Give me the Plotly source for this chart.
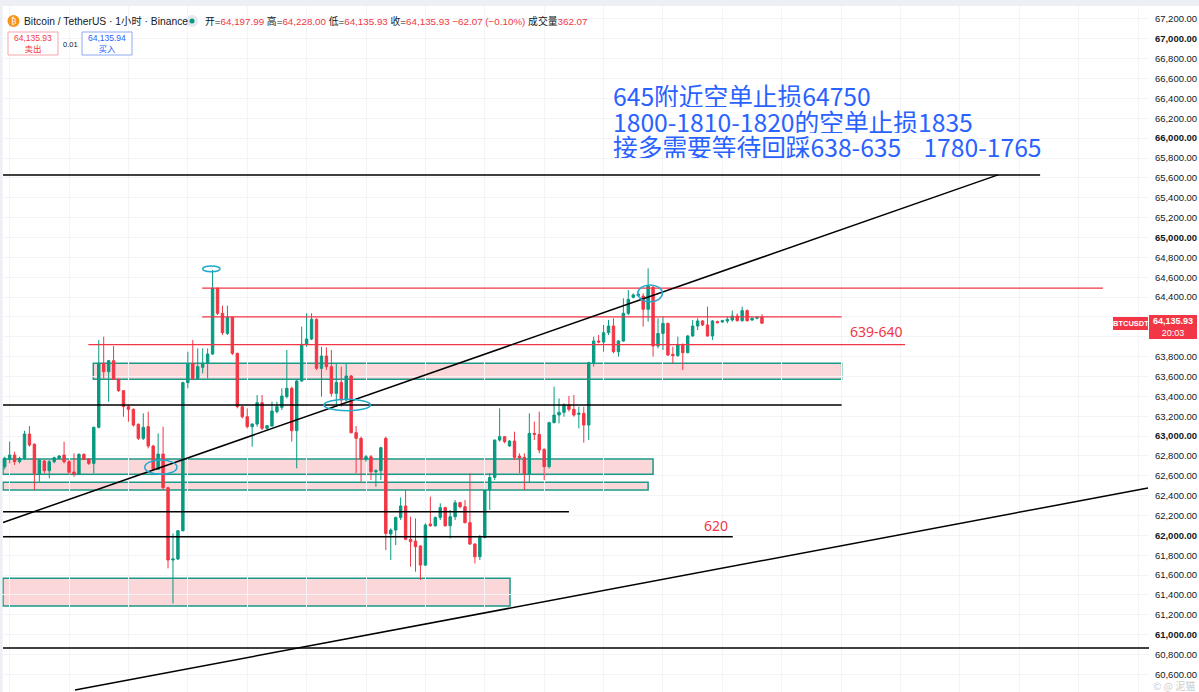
import plotly.graph_objects as go

# ---------------- data (BTCUSDT 1h candles) ----------------
opens = [62692,62766,62809,62742,62776,63021,62917,62618,62749,62651,62742,62776,62809,62742,62638,62618,62816,62769,62725,63088,
         63732,63648,63759,63571,63457,63296,63269,63118,62977,63095,62900,62665,62819,62480,61752,61762,62047,63538,63732,63581,
         63692,63732,63826,64488,64236,64034,64196,63833,63296,63195,63095,63121,63336,63078,63101,63246,63289,63397,63481,63054,
         63554,63924,63977,64175,63682,63806,63699,63430,63541,63363,63605,63034,62977,62766,62792,62641,62651,62977,62014,62054,
         62181,62296,61960,61943,61893,61701,62114,62097,62181,62279,62097,62188,62329,62289,62128,61913,61785,61980,62457,62584,
         62960,62994,62900,62950,62799,62786,62618,63027,63017,62866,62692,63135,63212,63239,63313,63269,63219,63229,63111,63739,
         63957,63947,64041,64108,63850,63957,64236,64397,64414,64410,64276,64498,63907,64034,64135,63823,63810,63917,63840,64008,
         64108,64159,64119,64008,64152,64149,64159,64169,64209,64162,64263,64169,64186,64197.99]
highs = [62792,62944,62843,62792,63054,63101,62927,62769,62759,62759,62792,62809,62944,62759,62826,62826,62826,62776,63095,63967,
         64001,63766,63907,63581,63464,63313,63279,63128,63229,63246,62910,63027,63095,62490,62020,62054,63548,63850,63967,63883,
         63883,63883,64672,64498,64313,64313,64202,63840,63303,63279,63128,63413,63413,63111,63346,63346,63481,63867,63497,63565,
         64102,64236,64236,64186,63900,63894,63867,63732,63699,63732,63615,63101,62994,62809,62809,62665,62893,62994,62071,62188,
         62383,62457,62188,62171,61903,62121,62390,62188,62323,62289,62256,62356,62339,62356,62625,61920,62004,62463,62625,62965,
         63279,63001,62960,63044,62826,62826,63229,63145,63246,62876,63145,63497,63380,63330,63403,63413,63296,63296,63749,64001,
         64018,64119,64169,64186,63967,64387,64471,64437,64437,64437,64689,64511,64186,64202,64142,63900,64001,63934,64018,64169,
         64186,64169,64303,64169,64162,64169,64202,64263,64236,64303,64276,64196,64209,64228.00]
lows = [62665,62725,62709,62725,62759,62893,62457,62541,62625,62574,62725,62766,62725,62608,62591,62608,62759,62709,62625,63078,
        63581,63346,63565,63447,63195,63145,63095,62960,62960,62876,62658,62658,62457,61668,61315,61752,62040,63481,63565,63565,
        63632,63581,63816,64219,64018,64018,63816,63279,63178,63078,62893,63095,63061,63061,63095,63229,63262,63380,62944,62675,
        63548,63900,63967,63665,63397,63665,63397,63296,63296,63346,63027,62625,62541,62742,62557,62490,62557,61852,61752,61903,
        62155,61953,61685,61634,61551,61691,62087,62087,62155,62087,61970,62155,62272,62121,61903,61718,61752,61970,62256,62557,
        62944,62927,62893,62759,62625,62457,62531,62960,62826,62557,62675,63128,63128,63195,63246,63195,63078,62933,62960,63699,
        63934,63850,64018,63833,63800,63951,64219,64387,64404,64102,64152,63800,63883,63867,63806,63732,63800,63665,63833,64001,
        64068,64108,64001,63967,64135,64142,64135,64152,64152,64152,64152,64159,64175,64135.93]
closes = [62776,62809,62742,62776,63021,62910,62625,62759,62651,62742,62782,62799,62742,62635,62618,62816,62766,62725,63088,63732,
          63648,63759,63571,63457,63296,63269,63111,62977,63088,62900,62665,62819,62480,61752,61762,62047,63538,63732,63581,63699,
          63732,63826,64488,64236,64041,64196,63833,63296,63195,63095,63121,63336,63078,63105,63252,63296,63403,63481,63054,63554,
          63924,63977,64175,63682,63806,63699,63430,63541,63363,63605,63034,62977,62766,62792,62641,62651,62883,62020,62054,62181,
          62296,61960,61936,61886,61701,62104,62097,62181,62279,62097,62188,62329,62289,62128,61913,61785,61980,62457,62584,62960,
          62994,62944,62950,62786,62779,62618,63027,63017,62860,62692,63135,63212,63239,63313,63269,63212,63229,63111,63739,63957,
          63947,64041,64108,63850,63957,64236,64377,64421,64431,64276,64511,63907,64034,64135,63816,63810,63917,63840,64008,64108,
          64159,64119,64008,64159,64142,64162,64175,64209,64162,64263,64162,64186,64196,64135.93]
candle_idx = list(range(len(opens)))

# drawn levels (price) and their extents (in candle-index units)
black_levels = [65630, 63313, 62239, 61987, 60866]
black_x0 = [-0.34, -0.34, -0.34, -0.34, -0.34]
black_x1 = [209.2, 169.1, 114.0, 147.1, 231.2]

red_levels = [64490, 64200, 63920]
red_x0 = [39.9, 39.9, 16.9]
red_x1 = [221.9, 169.1, 181.9]

zone_top = [63733, 62769, 62535, 61568]
zone_bot = [63572, 62615, 62457, 61289]
zone_x0 = [17.9, -0.34, -0.34, -0.34]
zone_x1 = [169.1, 131.0, 130.0, 102.1]

trend_x0 = [-0.34, 14.2]
trend_y0 = [62130, 60443]
trend_x1 = [200.7, 231.0]
trend_y1 = [65630, 62477]

ellipse_x0 = [40.0, 28.3, 64.5, 127.9]
ellipse_x1 = [43.5, 34.8, 73.9, 132.9]
ellipse_y0 = [64655, 62615, 63255, 64353]
ellipse_y1 = [64713, 62759, 63370, 64521]

tick_vals = list(range(60400, 67400, 200))
hidden_ticks = [64000, 64200]  # covered by the last-price tag
tick_text = ["" if v in hidden_ticks else (("<b>%s</b>" if v % 1000 == 0 else "%s") % f"{v:,.2f}")
             for v in tick_vals]
grid_x = list(range(1, 240, 12))

notes = ["645附近空单止损64750", "1800-1810-1820的空单止损1835", "接多需要等待回踩638-635    1780-1765"]

GREEN = "#089981"
RED = "#f23645"
BLUE = "#2962ff"
CYAN = "#22aacc"
W, H = 1199, 692
PW = 1149  # plot width in px


def X(px):
    return px / PW


def Y(py):
    return 1 - py / H


fig = go.Figure()
fig.add_trace(go.Candlestick(
    x=candle_idx, open=opens, high=highs, low=lows, close=closes,
    increasing=dict(line=dict(color=GREEN, width=1), fillcolor=GREEN),
    decreasing=dict(line=dict(color=RED, width=1), fillcolor=RED),
    whiskerwidth=0, hoverinfo="skip", showlegend=False,
))

shapes = []
for t, b, x0, x1 in zip(zone_top, zone_bot, zone_x0, zone_x1):
    shapes.append(dict(type="rect", xref="x", yref="y", x0=x0, x1=x1, y0=b, y1=t,
                       fillcolor="rgba(242,54,69,0.2)", line=dict(color="#1a9a88", width=1.5), layer="below"))
for lv, x0, x1 in zip(black_levels, black_x0, black_x1):
    shapes.append(dict(type="line", xref="x", yref="y", x0=x0, x1=x1, y0=lv, y1=lv,
                       line=dict(color="#000000", width=1.5), layer="above"))
for lv, x0, x1 in zip(red_levels, red_x0, red_x1):
    shapes.append(dict(type="line", xref="x", yref="y", x0=x0, x1=x1, y0=lv, y1=lv,
                       line=dict(color=RED, width=1.2), layer="above"))
for a, b, c, d in zip(trend_x0, trend_y0, trend_x1, trend_y1):
    shapes.append(dict(type="line", xref="x", yref="y", x0=a, y0=b, x1=c, y1=d,
                       line=dict(color="#000000", width=1.5), layer="above"))
for a, b, c, d in zip(ellipse_x0, ellipse_x1, ellipse_y0, ellipse_y1):
    shapes.append(dict(type="circle", xref="x", yref="y", x0=a, x1=b, y0=c, y1=d,
                       line=dict(color=CYAN, width=1.5), layer="above"))

# chrome: top toolbar strip, left strip
shapes.append(dict(type="rect", xref="paper", yref="paper", x0=0, x1=W / PW, y0=Y(6), y1=1,
                   fillcolor="#eceff3", line=dict(width=0), layer="above"))
shapes.append(dict(type="rect", xref="paper", yref="paper", x0=0, x1=X(2.5), y0=0, y1=1,
                   fillcolor="#eceff3", line=dict(width=0), layer="above"))
# header icons
shapes.append(dict(type="circle", xref="paper", yref="paper", x0=X(7.5), x1=X(19.5), y0=Y(27), y1=Y(15),
                   fillcolor="#f7931a", line=dict(width=0), layer="above"))
shapes.append(dict(type="circle", xref="paper", yref="paper", x0=X(186), x1=X(198), y0=Y(27), y1=Y(15),
                   fillcolor="#e6e8ee", line=dict(width=0), layer="above"))
shapes.append(dict(type="circle", xref="paper", yref="paper", x0=X(189.5), x1=X(194.5), y0=Y(23.5), y1=Y(18.5),
                   fillcolor=GREEN, line=dict(width=0), layer="above"))
# buy / sell boxes
shapes.append(dict(type="rect", xref="paper", yref="paper", x0=X(8), x1=X(58), y0=Y(55), y1=Y(32),
                   fillcolor="white", line=dict(color="#f7a6ad", width=1), layer="above"))
shapes.append(dict(type="rect", xref="paper", yref="paper", x0=X(82), x1=X(132), y0=Y(55), y1=Y(32),
                   fillcolor="white", line=dict(color="#90a9f5", width=1), layer="above"))
# price tags on the right
shapes.append(dict(type="rect", xref="paper", yref="paper", x0=X(1113), x1=X(1148), y0=Y(330), y1=Y(317),
                   fillcolor=RED, line=dict(width=0), layer="above"))
shapes.append(dict(type="rect", xref="paper", yref="paper", x0=X(1149), x1=X(1197), y0=Y(339), y1=Y(315),
                   fillcolor=RED, line=dict(width=0), layer="above"))

ann = []
for k, line in enumerate(notes):
    ann.append(dict(xref="paper", yref="paper", x=X(612), y=Y(95 + 25.5 * k), text=line, showarrow=False,
                    xanchor="left", yanchor="middle", height=24, borderpad=0,
                    font=dict(family="Noto Sans CJK SC", size=24.7, color=BLUE)))
ann.append(dict(xref="paper", yref="paper", x=X(876), y=Y(332), text="639-640", showarrow=False,
                xanchor="center", yanchor="middle", font=dict(family="Noto Sans", size=14, color=RED)))
ann.append(dict(xref="paper", yref="paper", x=X(716), y=Y(525), text="620", showarrow=False,
                xanchor="center", yanchor="middle", font=dict(family="Noto Sans", size=14, color=RED)))

hdr_font = "Liberation Sans, Noto Sans CJK SC"
ann.append(dict(xref="paper", yref="paper", x=X(13.5), y=Y(21), text="₿", showarrow=False,
                xanchor="center", yanchor="middle", font=dict(family="DejaVu Sans", size=8, color="white")))
ann.append(dict(xref="paper", yref="paper", x=X(22), y=Y(21), text="Bitcoin / TetherUS · 1小时 · Binance",
                showarrow=False, xanchor="left", yanchor="middle",
                font=dict(family=hdr_font, size=10.3, color="#131722")))
r = lambda s: f"<span style='color:{RED}'>{s}</span>"
ohlc = ("开=" + r("64,197.99") + " 高=" + r("64,228.00") + " 低=" + r("64,135.93") + " 收=" +
        r("64,135.93") + " " + r("−62.07 (−0.10%)") + " 成交量" + r("362.07"))
ann.append(dict(xref="paper", yref="paper", x=X(203), y=Y(21), text=ohlc, showarrow=False,
                xanchor="left", yanchor="middle", font=dict(family=hdr_font, size=9.8, color="#131722")))
ann.append(dict(xref="paper", yref="paper", x=X(33), y=Y(43.5), text="64,135.93<br>卖出", showarrow=False,
                xanchor="center", yanchor="middle", font=dict(family=hdr_font, size=8.5, color=RED)))
ann.append(dict(xref="paper", yref="paper", x=X(107), y=Y(43.5), text="64,135.94<br>买入", showarrow=False,
                xanchor="center", yanchor="middle", font=dict(family=hdr_font, size=8.5, color=BLUE)))
ann.append(dict(xref="paper", yref="paper", x=X(70), y=Y(44), text="0.01", showarrow=False,
                xanchor="center", yanchor="middle", font=dict(family=hdr_font, size=7.5, color="#131722")))
ann.append(dict(xref="paper", yref="paper", x=X(1130.5), y=Y(323.5), text="<b>BTCUSDT</b>", showarrow=False,
                xanchor="center", yanchor="middle", font=dict(family="Liberation Sans", size=7.5, color="white")))
ann.append(dict(xref="paper", yref="paper", x=X(1173), y=Y(327), text="<b>64,135.93</b><br>20:03", showarrow=False,
                xanchor="center", yanchor="middle", font=dict(family="Liberation Sans", size=9, color="white")))
ann.append(dict(xref="paper", yref="paper", x=X(1174), y=Y(685), text="© @ 泥猫", showarrow=False,
                xanchor="center", yanchor="middle", font=dict(family="Noto Sans CJK SC", size=10, color="rgba(150,150,150,0.5)")))

fig.update_layout(
    width=W, height=H, margin=dict(l=0, r=W - PW, t=0, b=0),
    paper_bgcolor="white", plot_bgcolor="white",
    shapes=shapes, annotations=ann, showlegend=False,
    xaxis=dict(range=[-0.95, 231.2], rangeslider=dict(visible=False), showticklabels=False,
               tickvals=grid_x, showgrid=True, gridcolor="#f2f4f8", zeroline=False, ticks="", fixedrange=True),
    yaxis=dict(side="right", range=[60423, 67391], tickvals=tick_vals, ticktext=tick_text,
               showgrid=True, gridcolor="#f2f4f8", zeroline=False, ticks="outside", ticklen=3,
               tickcolor="white", tickfont=dict(family="Liberation Sans", size=9.5, color="#131722"),
               fixedrange=True),
)

fig.write_html("out.html")
